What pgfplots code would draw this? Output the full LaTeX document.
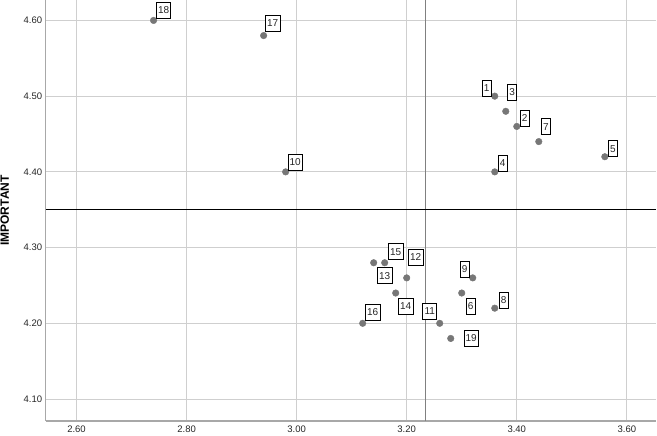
\documentclass[border=0pt]{standalone}
\usepackage{fontspec}
\setmainfont{Liberation Sans}
\usepackage{pgfplots}
\pgfplotsset{compat=1.18}
\usepackage{pgfplotstable}
\definecolor{gridc}{HTML}{CFCFCF}
\definecolor{refv}{HTML}{808080}
\definecolor{markc}{HTML}{777777}
\definecolor{axc}{HTML}{A8A8A8}
\pgfplotstableread{
x y lab dx dy
3.36 4.50 1 -8 8
3.40 4.46 2 8 8
3.38 4.48 3 6.5 19
3.36 4.40 4 8 9
3.56 4.42 5 8 8
3.30 4.24 6 9 -13
3.44 4.44 7 7 15
3.36 4.22 8 9 8
3.32 4.26 9 -8 9
2.98 4.40 10 9.5 10
3.26 4.20 11 -10 12
3.20 4.26 12 9 21
3.14 4.28 13 11 -13
3.18 4.24 14 10 -13
3.16 4.28 15 11 11
3.12 4.20 16 10 11
2.94 4.58 17 9 12.5
2.74 4.60 18 10 10
3.28 4.18 19 20.5 0
}\data
\begin{document}
\begin{tikzpicture}
\useasboundingbox (0,0) rectangle (657pt,436pt);
\begin{axis}[
  at={(45.7pt,15pt)}, anchor=south west,
  width=610.3pt, height=421pt, scale only axis,
  xmin=2.544, xmax=3.653, ymin=4.071, ymax=4.627,
  xtick={2.6,2.8,3.0,3.2,3.4,3.6},
  ytick={4.1,4.2,4.3,4.4,4.5,4.6},
  grid=major, grid style={color=gridc, line width=0.9pt},
  axis lines=left,
  axis line style={-, draw=axc},
  x axis line style={line width=1.6pt},
  y axis line style={line width=0.8pt},
  major tick length=0pt,
  ticklabel style={font=\fontsize{9.5}{11}\selectfont, text=black!85},
  xticklabel style={yshift=-1pt},
  ylabel={IMPORTANT},
  ylabel style={at={(axis description cs:0,0.5)}, anchor=center, rotate=0, yshift=41pt, font=\bfseries\fontsize{12}{14}\selectfont},
  /pgf/number format/.cd, fixed, fixed zerofill, precision=2, assume math mode=true,
]
\addplot[refv, line width=0.9pt, no marks, forget plot] coordinates {(3.2345,4.071) (3.2345,4.627)};
\addplot[black, line width=0.9pt, no marks, forget plot] coordinates {(2.544,4.35) (3.653,4.35)};
\addplot[only marks, mark=*, mark size=3.3pt, color=markc,
  nodes near coords, point meta=explicit symbolic,
  visualization depends on={\thisrow{dx}\as\dx},
  visualization depends on={\thisrow{dy}\as\dy},
  every node near coord/.append style={anchor=center, xshift=\dx pt, yshift=\dy pt,
    draw=black, line width=0.7pt, fill=white, text=black!85, inner xsep=1.7pt, inner ysep=0pt,
    minimum height=16pt, font=\fontsize{10}{11}\selectfont}]
  table[x=x, y=y, meta=lab]{\data};
\end{axis}
\end{tikzpicture}
\end{document}
